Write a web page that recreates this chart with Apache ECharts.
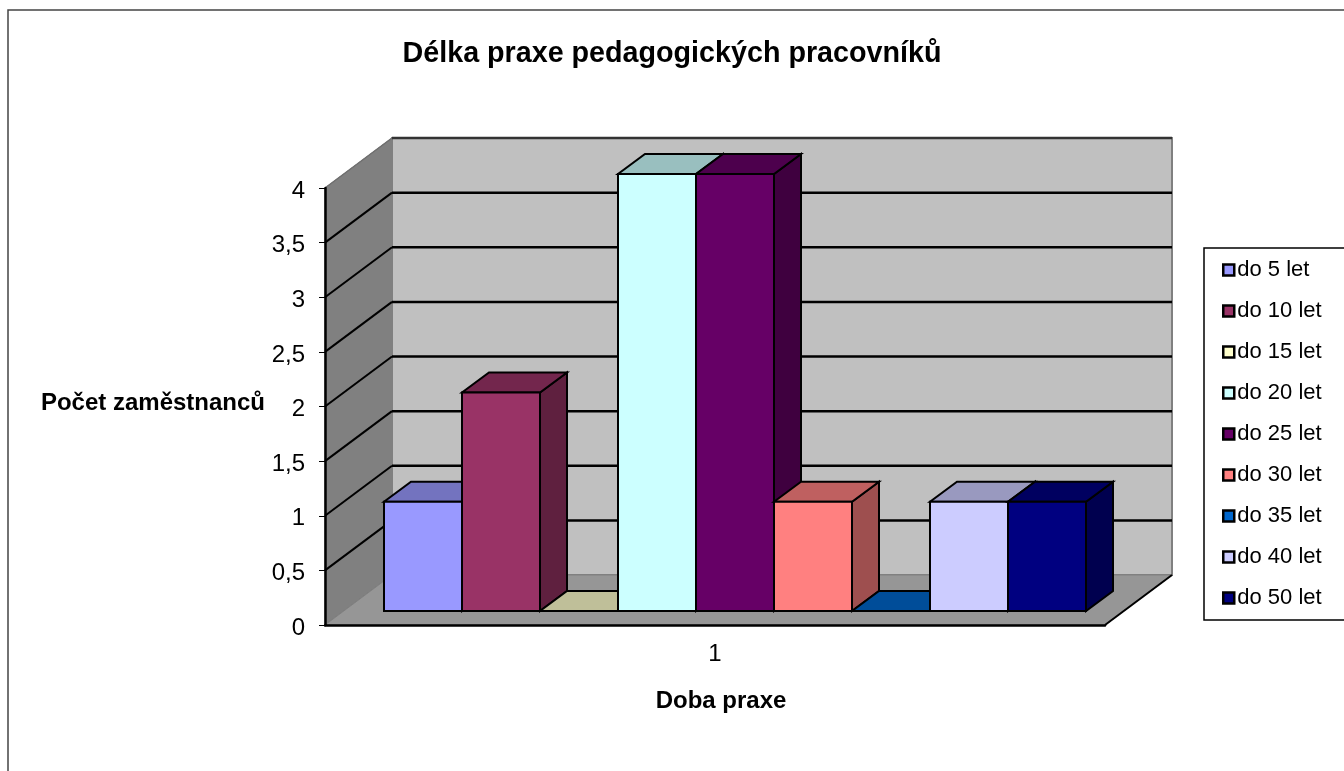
<!DOCTYPE html>
<html>
<head>
<meta charset="utf-8">
<style>
  html, body { margin: 0; padding: 0; background: #fff; overflow: hidden; }
  #chart { width: 1344px; height: 771px; }
</style>
<script src="https://cdn.jsdelivr.net/npm/echarts@6/dist/echarts.min.js"></script>
</head>
<body>
<div id="chart"></div>
<script>
const categories = ['1']
const seriesNames = ['do 5 let', 'do 10 let', 'do 15 let', 'do 20 let', 'do 25 let', 'do 30 let', 'do 35 let', 'do 40 let', 'do 50 let']
const seriesValues = [1, 2, 0, 4, 4, 1, 0, 1, 1]
const seriesColors = ['#9999FF', '#993366', '#FFFFCC', '#CCFFFF', '#660066', '#FF8080', '#0066CC', '#CCCCFF', '#000080']
const yTicks = [0, 0.5, 1, 1.5, 2, 2.5, 3, 3.5, 4]

const FONT = '"Liberation Sans", Arial, sans-serif'

// 3D projection offsets, in px
const wallDx = 67
const wallDy = 50
const barShiftX = 20
const barShiftY = 14
const barDx = 27
const barDy = 20

// darken a hex colour for top and side faces
const shade = (hex, k) => {
  const n = parseInt(hex.slice(1), 16)
  const c = [(n >> 16) & 255, (n >> 8) & 255, n & 255].map(v => Math.round(v * k))
  return 'rgb(' + c.join(',') + ')'
}

const poly = (points, fill, stroke, lineWidth) => ({
  type: 'polygon',
  shape: { points },
  style: { fill, stroke, lineWidth, lineJoin: 'miter' }
})

const line = (p1, p2, stroke, lineWidth) => ({
  type: 'line',
  shape: { x1: p1[0], y1: p1[1], x2: p2[0], y2: p2[1] },
  style: { stroke, lineWidth, fill: null }
})

// left wall, back wall, floor and the bent grid lines
const renderWalls = (params, api) => {
  const band = api.size([1, 0])[0]
  const x0 = api.coord([0, 0])[0] - band / 2
  const x1 = x0 + band
  const y0 = api.coord([0, 0])[1]
  const yTop = api.coord([0, yTicks[yTicks.length - 1]])[1]
  const children = [
    poly([[x0, y0], [x0, yTop], [x0 + wallDx, yTop - wallDy], [x0 + wallDx, y0 - wallDy]], '#808080', '#707070', 1),
    poly([[x0 + wallDx, yTop - wallDy], [x1 + wallDx, yTop - wallDy], [x1 + wallDx, y0 - wallDy], [x0 + wallDx, y0 - wallDy]], '#C0C0C0', '#808080', 2),
    poly([[x0, y0], [x1, y0], [x1 + wallDx, y0 - wallDy], [x0 + wallDx, y0 - wallDy]], '#969696', '#808080', 1)
  ]
  yTicks.forEach(v => {
    if (v === 0) return
    const y = api.coord([0, v])[1]
    const isTop = v === yTicks[yTicks.length - 1]
    children.push(line([x0, y], [x0 + wallDx, y - wallDy], isTop ? '#707070' : '#000', isTop ? 1.5 : 2))
    children.push(line([x0 + wallDx, y - wallDy], [x1 + wallDx, y - wallDy], isTop ? '#333' : '#000', 2.5))
  })
  children.push(line([x1, y0], [x1 + wallDx, y0 - wallDy], '#000', 2))
  return { type: 'group', children }
}

const renderBar = (index) => (params, api) => {
  const band = api.size([1, 0])[0]
  const w = band / 10
  const color = seriesColors[index]
  const left = api.coord([0, 0])[0] - band / 2 + barShiftX + w / 2 + index * w
  const right = left + w
  const bottom = api.coord([0, 0])[1] - barShiftY
  const top = api.coord([0, api.value(1)])[1] - barShiftY
  const faces = [
    poly([[right, bottom], [right, top], [right + barDx, top - barDy], [right + barDx, bottom - barDy]], shade(color, 0.62), '#000', 2),
    poly([[left, top], [right, top], [right + barDx, top - barDy], [left + barDx, top - barDy]], shade(color, 0.75), '#000', 2),
    poly([[left, bottom], [right, bottom], [right, top], [left, top]], color, '#000', 2)
  ]
  return { type: 'group', children: faces }
}

const series = [
  { type: 'custom', name: 'walls', z: 1, silent: true, renderItem: renderWalls, data: [[0, 0]] }
]
seriesNames.forEach((name, i) => {
  series.push({
    type: 'custom',
    name,
    z: 2,
    itemStyle: { color: seriesColors[i] },
    renderItem: renderBar(i),
    encode: { x: 0, y: 1 },
    data: [[0, seriesValues[i]]]
  })
})

const chart = echarts.init(document.getElementById('chart'), null, { renderer: 'canvas' })
chart.setOption({
  animation: false,
  backgroundColor: '#fff',
  textStyle: { fontFamily: FONT, color: '#000' },
  color: seriesColors,
  title: {
    text: 'Délka praxe pedagogických pracovníků',
    left: 'center',
    top: 35,
    textStyle: { fontFamily: FONT, fontSize: 28.7, fontWeight: 'bold', color: '#000' }
  },
  grid: { left: 325, right: 239, top: 188, bottom: 146 },
  xAxis: {
    type: 'category',
    data: categories,
    z: 5,
    name: 'Doba praxe',
    nameLocation: 'middle',
    nameGap: 64,
    nameTextStyle: { fontFamily: FONT, fontSize: 24, fontWeight: 'bold', color: '#000', padding: [0, 0, 0, 12] },
    axisLine: { lineStyle: { color: '#000', width: 2.5 } },
    axisTick: { length: 7, lineStyle: { color: '#000', width: 1 } },
    axisLabel: { fontFamily: FONT, fontSize: 24, color: '#000', margin: 17 }
  },
  yAxis: {
    type: 'value',
    min: 0,
    max: 4,
    interval: 0.5,
    z: 5,
    name: 'Počet zaměstnanců',
    nameLocation: 'middle',
    nameRotate: 0,
    nameGap: 60,
    nameTextStyle: { fontFamily: FONT, fontSize: 24, fontWeight: 'bold', color: '#000', verticalAlign: 'top', padding: [-15, 0, 0, 0] },
    splitLine: { show: false },
    axisLine: { show: true, lineStyle: { color: '#000', width: 2.5 } },
    axisTick: { show: true, length: 6, lineStyle: { color: '#000', width: 1 } },
    axisLabel: {
      fontFamily: FONT,
      fontSize: 24,
      color: '#000',
      margin: 20,
      verticalAlign: 'top',
      padding: [-9, 0, 0, 0],
      formatter: v => String(v).replace('.', ',')
    }
  },
  legend: {
    data: seriesNames,
    orient: 'vertical',
    left: 1204,
    top: 248,
    padding: [11, 40, 11, 18],
    itemWidth: 11,
    itemHeight: 11,
    itemGap: 19,
    icon: 'rect',
    borderColor: '#000',
    borderWidth: 1.5,
    selectedMode: false,
    itemStyle: { borderColor: '#000', borderWidth: 2.5 },
    textStyle: { fontFamily: FONT, fontSize: 22, color: '#000', padding: [0, 0, 0, -2] }
  },
  graphic: [{
    type: 'rect',
    z: -1,
    silent: true,
    shape: { x: 8, y: 10, width: 1600, height: 1000 },
    style: { fill: 'none', stroke: '#444', lineWidth: 1.5 }
  }],
  series
})
</script>
</body>
</html>
